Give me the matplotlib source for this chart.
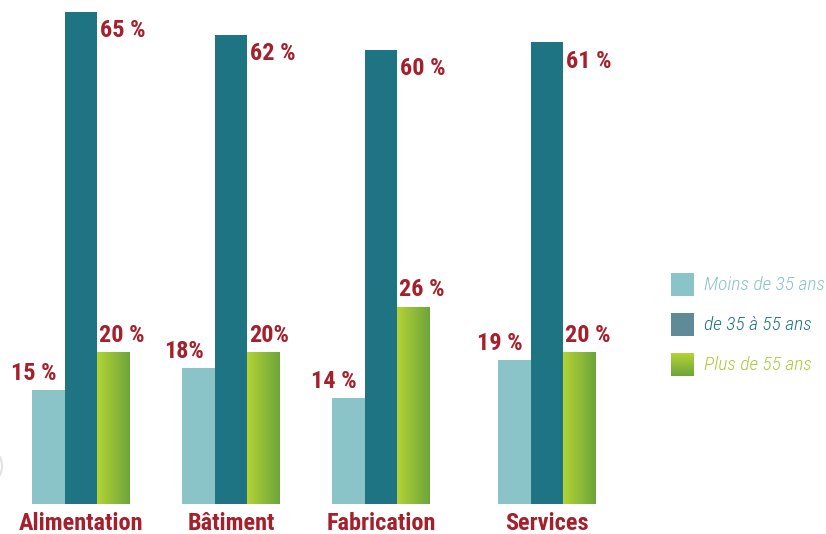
import matplotlib
matplotlib.use("Agg")
import matplotlib.pyplot as plt
import numpy as np
from matplotlib.colors import LinearSegmentedColormap

categories = ["Alimentation", "Bâtiment", "Fabrication", "Services"]
moins_35 = [15, 18, 14, 19]
de_35_55 = [65, 62, 60, 61]
plus_55 = [20, 20, 26, 20]
lab_moins = ["15 %", "18%", "14 %", "19 %"]
lab_mid = ["65 %", "62 %", "60 %", "61 %"]
lab_plus = ["20 %", "20%", "26 %", "20 %"]
series_names = ["Moins de 35 ans", "de 35 à 55 ans", "Plus de 55 ans"]

# layout (pixel-like x units)
centers = np.array([81, 231, 381, 547])
w = 32.5
red = "#a5202b"
c_light = "#8ac3c8"
c_dark = "#1f7483"
c_leg_dark = "#5e8b97"
green_cmap = LinearSegmentedColormap.from_list("g", ["#b3d335", "#6ea53a"])

cond = ["Roboto Condensed", "DejaVu Sans"]

fig = plt.figure(figsize=(8.26, 5.34), dpi=100)
ax = fig.add_axes([0, 0, 1, 1])
ax.set_xlim(0, 826)
ax.set_ylim(-30 / 7.57, 504 / 7.57)
ax.axis("off")

b1 = ax.bar(centers - w, moins_35, w, color=c_light, linewidth=0)
b2 = ax.bar(centers, de_35_55, w, color=c_dark, linewidth=0)
b3 = ax.bar(centers + w, plus_55, w, color="none", linewidth=0)

grad = np.linspace(0, 1, 64).reshape(1, -1)
for p in b3:
    x0, h = p.get_x(), p.get_height()
    ax.imshow(grad, cmap=green_cmap, extent=(x0, x0 + w, 0, h),
              aspect="auto", zorder=2)

tk = dict(color=red, fontsize=17.5, fontweight="bold", family=cond)
for i in range(len(categories)):
    ax.text(centers[i] - 1.5 * w + 2, moins_35[i] + 2.2, lab_moins[i],
            ha="center", va="center", **tk)
    ax.text(centers[i] + 0.5 * w + 3, de_35_55[i] - 2.5, lab_mid[i],
            ha="left", va="center", **tk)
    ax.text(centers[i] + 0.5 * w + 2, plus_55[i] + 2.3, lab_plus[i],
            ha="left", va="center", **tk)
    ax.text(centers[i], -2.55, categories[i], ha="center", va="center",
            color=red, fontsize=17.5, fontweight="bold", family=cond)

# faint grey arc at the left edge
ax.add_patch(matplotlib.patches.Ellipse((-16, (504 - 466) / 7.57), 36, 38 / 7.57,
                                        fill=False, edgecolor="#e2e2e2", linewidth=1.5))

# legend
leg_colors = [c_light, c_dark, "#a9cc3a"]
sq_colors = [c_light, c_leg_dark, None]
leg_y = [284.5, 324.5, 364.5]
for i, name in enumerate(series_names):
    yc = (504 - leg_y[i]) / 7.57
    hh = 11.5 / 7.57
    if sq_colors[i] is None:
        vg = np.linspace(0, 1, 32).reshape(-1, 1)
        ax.imshow(vg, cmap=green_cmap, extent=(671, 694, yc - hh, yc + hh),
                  aspect="auto", zorder=2, origin="upper")
    else:
        ax.add_patch(plt.Rectangle((671, yc - hh), 23, 2 * hh,
                                   color=sq_colors[i], linewidth=0))
    ax.text(704, yc, name, ha="left", va="center", color=leg_colors[i],
            fontsize=14, style="italic", fontweight="light", family=cond)

ax.set_xlim(0, 826)
ax.set_ylim(-30 / 7.57, 504 / 7.57)
fig.savefig("out.png", dpi=100)
